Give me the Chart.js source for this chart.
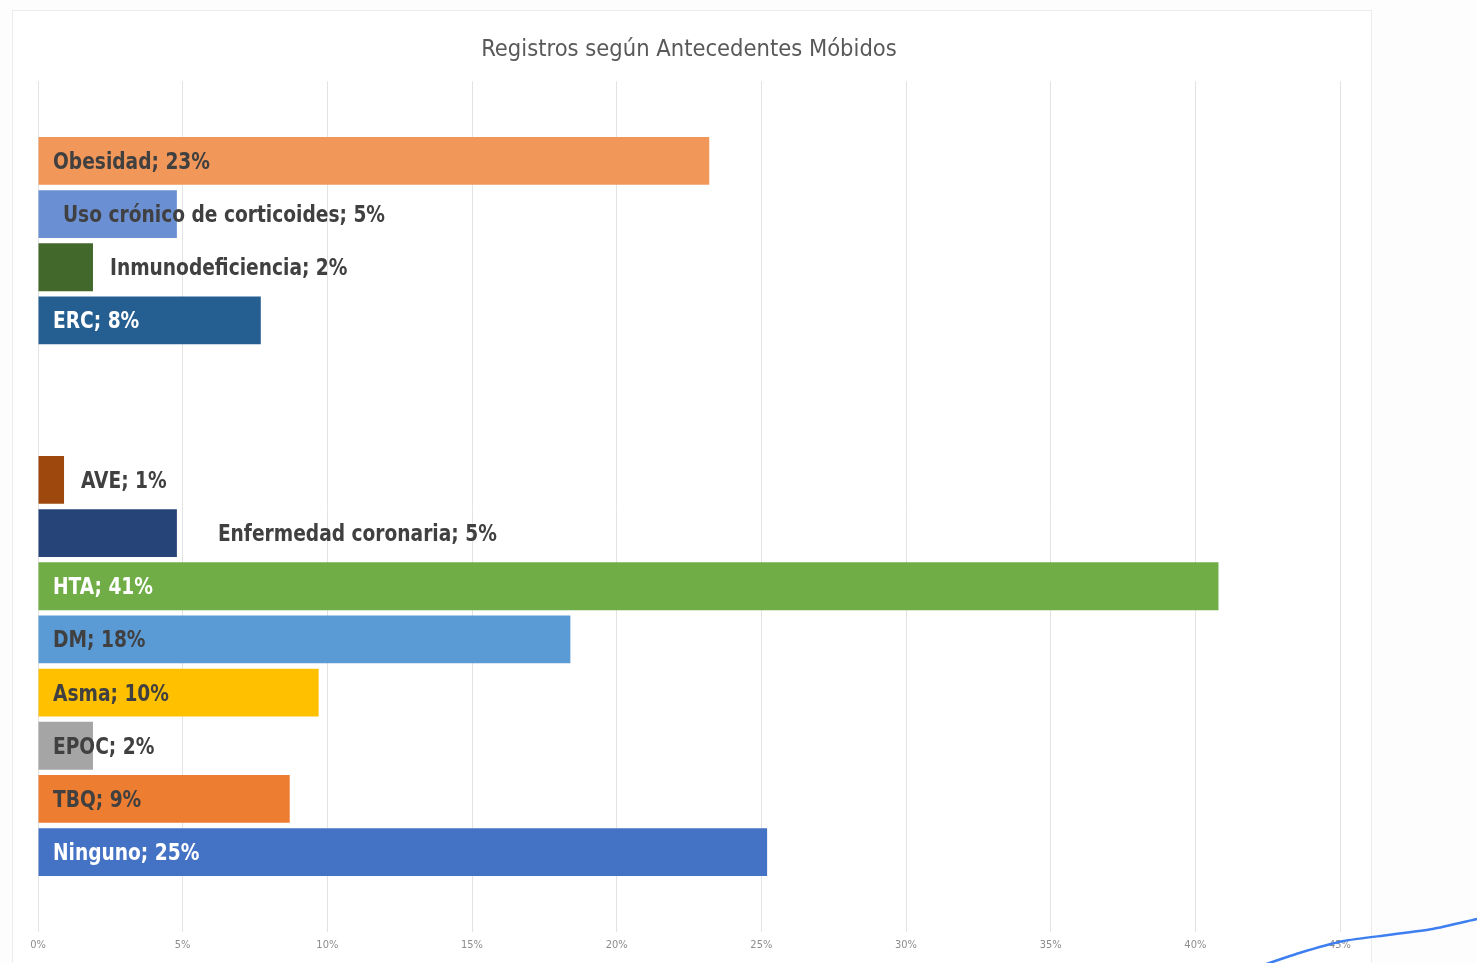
<!DOCTYPE html>
<html>
<head>
<meta charset="utf-8">
<script src="https://cdn.jsdelivr.net/npm/chart.js@4.4.1/dist/chart.umd.min.js"></script>
<style>
  html, body { margin: 0; padding: 0; background: #fdfdfd; width: 1477px; height: 963px; overflow: hidden; }
  #card { position: absolute; left: 12px; top: 10px; width: 1358px; height: 970px; border: 1px solid #ececec; background: #ffffff; }
  #main { position: absolute; left: 0; top: 0; }
  #trendBox { position: absolute; left: 1255px; top: 895px; width: 222px; height: 75px; }
</style>
</head>
<body>
<div id="card"><canvas id="main" width="1358" height="953"></canvas></div>
<div id="trendBox"><canvas id="trend" width="222" height="75"></canvas></div>
<script>
// ---- Data ----
const categories = ["", "Obesidad", "Uso crónico de corticoides", "Inmunodeficiencia", "ERC", "", "",
  "AVE", "Enfermedad coronaria", "HTA", "DM", "Asma", "EPOC", "TBQ", "Ninguno", ""];
const percentValues = [null, 23.2, 4.8, 1.9, 7.7, null, null, 0.9, 4.8, 40.8, 18.4, 9.7, 1.9, 8.7, 25.2, null];
const xTickValues = [0, 5, 10, 15, 20, 25, 30, 35, 40, 45];
const chartTitle = "Registros según Antecedentes Móbidos";

// stray line visible at bottom-right of the picture (neighbouring object)
const trendLabels = ["a", "b", "c", "d", "e", "f"];
const trendValues = [-13, 2, 14, 20, 26, 36];

// ---- Styles ----
const barColors = [null, "#F1975A", "#6A8FD2", "#43682B", "#255E91", null, null,
  "#9E480E", "#264478", "#70AD47", "#5B9BD5", "#FFC000", "#A5A5A5", "#ED7D31", "#4472C4", null];
const labelColors = [null, "#404040", "#404040", "#404040", "#FFFFFF", null, null,
  "#404040", "#404040", "#FFFFFF", "#404040", "#404040", "#404040", "#404040", "#FFFFFF", null];
// label placement: ["base", px from zero] or ["end", px after bar end]
const labelPlacement = [null, ["base", 15], ["base", 25], ["end", 17], ["base", 15], null, null,
  ["end", 17], ["end", 41], ["base", 15], ["base", 15], ["base", 15], ["base", 15], ["base", 15], ["base", 15], null];
const narrowFont = "'Liberation Sans Narrow', 'Arial Narrow', 'DejaVu Sans Condensed', 'Liberation Sans', sans-serif";

const barLabelPlugin = {
  id: 'barLabels',
  afterDatasetsDraw(chart) {
    const ctx = chart.ctx;
    const meta = chart.getDatasetMeta(0);
    const xs = chart.scales.x;
    const zero = xs.getPixelForValue(0);
    const sx = 0.9;
    meta.data.forEach((bar, i) => {
      const v = percentValues[i];
      if (v === null || v === undefined) return;
      const place = labelPlacement[i];
      const tx = place[0] === "base" ? zero + place[1] : bar.x + place[1];
      ctx.save();
      ctx.font = "bold 23px " + narrowFont;
      ctx.textBaseline = "middle";
      ctx.textAlign = "left";
      ctx.fillStyle = labelColors[i];
      ctx.translate(tx, bar.y + 2);
      ctx.scale(sx, 1);
      ctx.fillText(categories[i] + "; " + Math.round(v) + "%", 0, 0);
      ctx.restore();
    });
  }
};

new Chart(document.getElementById('main'), {
  type: 'bar',
  data: {
    labels: categories,
    datasets: [{
      data: percentValues,
      backgroundColor: barColors,
      borderWidth: 0,
      barPercentage: 0.9,
      categoryPercentage: 1.0
    }]
  },
  options: {
    indexAxis: 'y',
    responsive: false,
    animation: false,
    layout: { padding: { left: 25, right: 31, top: 0, bottom: 5 } },
    plugins: {
      legend: { display: false },
      tooltip: { enabled: false },
      title: {
        display: true,
        text: chartTitle,
        color: '#595959',
        font: { family: narrowFont, size: 23.5, weight: 'normal', lineHeight: 1.2 },
        padding: { top: 25, bottom: 17 }
      }
    },
    scales: {
      x: {
        min: 0, max: 45,
        afterBuildTicks: (s) => { s.ticks = xTickValues.map(v => ({ value: v })); },
        grid: { color: '#e3e3e3', lineWidth: 1, drawTicks: false },
        border: { display: false },
        ticks: {
          color: '#8c8c8c',
          font: { family: narrowFont, size: 11 },
          padding: 7,
          callback: (v) => v + '%'
        }
      },
      y: {
        display: false
      }
    }
  },
  plugins: [barLabelPlugin]
});

new Chart(document.getElementById('trend'), {
  type: 'line',
  data: {
    labels: trendLabels,
    datasets: [{ data: trendValues, borderColor: '#3D7FF0', borderWidth: 2.5, pointRadius: 0, tension: 0.2 }]
  },
  options: {
    responsive: false,
    animation: false,
    layout: { padding: 0 },
    plugins: { legend: { display: false }, tooltip: { enabled: false } },
    scales: {
      x: { display: false, offset: false },
      y: { display: false, min: -15, max: 60 }
    }
  }
});
</script>
</body>
</html>
